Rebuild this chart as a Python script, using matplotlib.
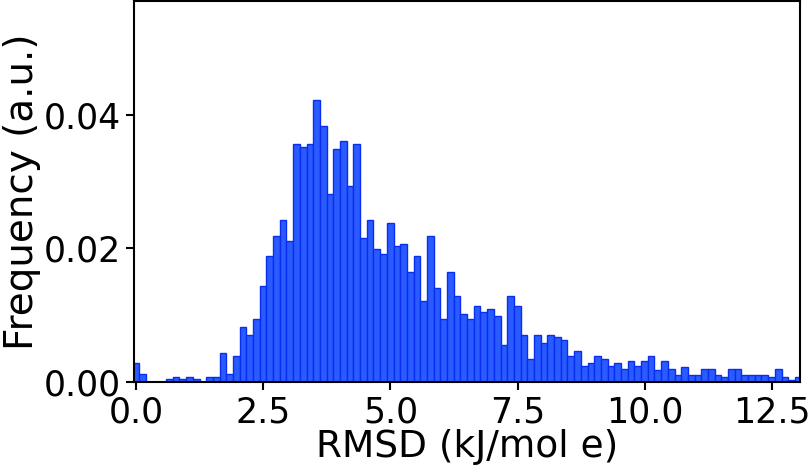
import numpy as np
import matplotlib.pyplot as plt

# Histogram of RMSD values (100 bins), heights
bin_start = -0.072
bin_width = 0.1316
freq = [
    0.0028, 0.0012, 0.0, 0.0, 0.0, 0.00045, 0.0008, 0.00045, 0.0008, 0.00045,
    0.0, 0.0008, 0.0008, 0.0043, 0.0012, 0.0039, 0.0082, 0.0070, 0.0094, 0.0144,
    0.0188, 0.0219, 0.0242, 0.0211, 0.0356, 0.0352, 0.0356, 0.0422, 0.0383, 0.0281,
    0.0348, 0.0360, 0.0293, 0.0356, 0.0215, 0.0243, 0.0199, 0.0192, 0.0238, 0.0203,
    0.0207, 0.0164, 0.0188, 0.0121, 0.0218, 0.0141, 0.0094, 0.0164, 0.0129, 0.0101,
    0.0094, 0.0113, 0.0105, 0.0109, 0.0098, 0.0055, 0.0129, 0.0113, 0.0071, 0.0035,
    0.0071, 0.0059, 0.0071, 0.0067, 0.0063, 0.0039, 0.0047, 0.0024, 0.0028, 0.0039,
    0.0035, 0.0024, 0.0028, 0.0019, 0.0032, 0.0024, 0.0032, 0.0039, 0.0018, 0.0032,
    0.0019, 0.0011, 0.0023, 0.0011, 0.0011, 0.0019, 0.0019, 0.0011, 0.0007, 0.0019,
    0.0019, 0.0011, 0.0011, 0.0011, 0.0011, 0.0007, 0.0019, 0.0007, 0.0003, 0.0007,
]

edges = bin_start + bin_width * np.arange(len(freq) + 1)

fig = plt.figure(figsize=(8.1, 4.7), dpi=100)
ax = fig.add_axes([0.1654, 0.1872, 0.8223, 0.8108])

ax.hist(edges[:-1], bins=edges, weights=freq, facecolor='#2a5bff',
        edgecolor='#0a2ef0', linewidth=1.0)

ax.set_xlim(-0.045, 13.057)
ax.set_ylim(0, 0.057)
ax.set_xticks([0.0, 2.5, 5.0, 7.5, 10.0, 12.5])
ax.set_yticks([0.0, 0.02, 0.04])
ax.set_xticklabels(['0.0', '2.5', '5.0', '7.5', '10.0', '12.5'])
ax.set_yticklabels(['0.00', '0.02', '0.04'])
ax.tick_params(labelsize=25, width=1.5, length=6)
for s in ax.spines.values():
    s.set_linewidth(1.5)

ax.set_xlabel('RMSD (kJ/mol e)', fontsize=27, labelpad=0)
ax.set_ylabel('Frequency (a.u.)', fontsize=28, labelpad=2)

fig.savefig('out.png', dpi=100)
